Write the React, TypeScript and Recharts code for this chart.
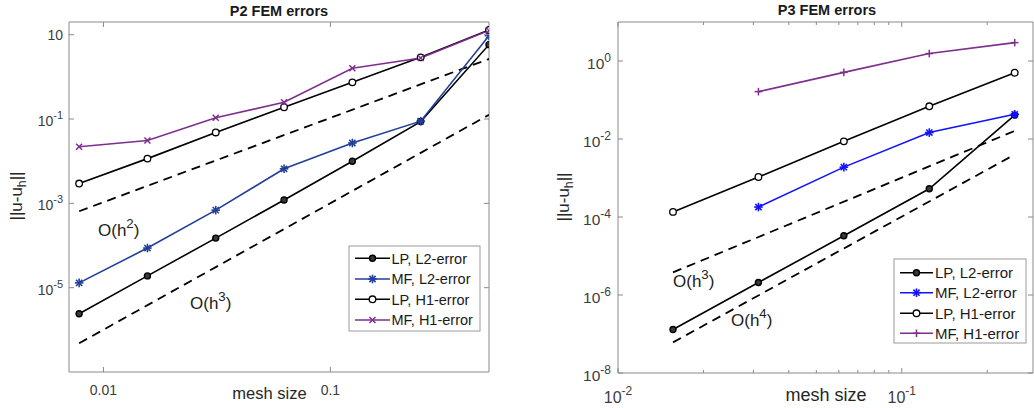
import React from "react";
import { LineChart, Line, XAxis, YAxis, ReferenceArea } from "recharts";

// mesh sizes
const H_P2 = [1 / 128, 1 / 64, 1 / 32, 1 / 16, 1 / 8, 1 / 4, 1 / 2];
const H_P3 = [1 / 64, 1 / 32, 1 / 16, 1 / 8, 1 / 4];
const H_P3_MF = [1 / 32, 1 / 16, 1 / 8, 1 / 4];

// P2 errors
const P2_LP_L2 = [2.4e-6, 1.9e-5, 1.5e-4, 1.2e-3, 1.0e-2, 0.087, 5.8];
const P2_MF_L2 = [1.3e-5, 8.7e-5, 6.9e-4, 6.6e-3, 0.027, 0.089, 9.5];
const P2_LP_H1 = [2.95e-3, 0.0115, 0.048, 0.19, 0.74, 2.9, 13];
const P2_MF_H1 = [0.022, 0.031, 0.107, 0.25, 1.6, 2.8, 12.6];

// P3 errors
const P3_LP_L2 = [1.3e-7, 2.1e-6, 3.3e-5, 5.3e-4, 0.041];
const P3_MF_L2 = [1.8e-4, 1.9e-3, 0.0146, 0.043];
const P3_LP_H1 = [1.35e-4, 1.06e-3, 8.7e-3, 0.069, 0.5];
const P3_MF_H1 = [0.164, 0.51, 1.55, 2.96];

// reference slopes (end points)
const P2_RATE_H = [1 / 128, 1 / 2];
const P2_O2 = [6.5e-4, 2.66];
const P2_O3 = [4.8e-7, 0.126];
const P3_RATE_H = [1 / 64, 1 / 4];
const P3_O3 = [3.8e-6, 0.0161];
const P3_O4 = [6.1e-8, 0.004];

// axis ticks
const P2_X_TICKS = [0.01, 0.1];
const P2_Y_TICKS = [10, 0.1, 1e-3, 1e-5];
const P3_X_TICKS = [0.01, 0.02, 0.03, 0.04, 0.05, 0.06, 0.07, 0.08, 0.09, 0.1, 0.2];
const P3_X_MAJOR = [0.01, 0.1];
const P3_Y_TICKS = [1, 1e-2, 1e-4, 1e-6, 1e-8];

const LEGEND_NAMES = ["LP, L2-error", "MF, L2-error", "LP, H1-error", "MF, H1-error"];

const FONT = '"Liberation Sans", Arial, Helvetica, sans-serif';
const AXIS_GRAY = "#8a8a8a";
const TEXT = "#3c3c3c";
const BLACK = "#000000";
const NAVY = "#213f98";
const BLUE = "#1212ff";
const PURPLE = "#7e2f8e";

type Kind = "dotFilled" | "dotOpen" | "star" | "cross" | "plus";

function Marker({ kind, cx, cy, color }: { kind: Kind; cx: number; cy: number; color: string }) {
  if (cx == null || cy == null || isNaN(cx) || isNaN(cy)) return null;
  if (kind === "dotFilled")
    return <circle cx={cx} cy={cy} r={3} fill="#3a3a3a" stroke={color} strokeWidth={1.4} />;
  if (kind === "dotOpen")
    return <circle cx={cx} cy={cy} r={3.3} fill="#ffffff" stroke={color} strokeWidth={1.3} />;
  if (kind === "star") {
    const a = 4.3;
    const b = 3.1;
    return (
      <g stroke={color} strokeWidth={1.6}>
        <line x1={cx - a} y1={cy} x2={cx + a} y2={cy} />
        <line x1={cx} y1={cy - a} x2={cx} y2={cy + a} />
        <line x1={cx - b} y1={cy - b} x2={cx + b} y2={cy + b} />
        <line x1={cx - b} y1={cy + b} x2={cx + b} y2={cy - b} />
      </g>
    );
  }
  if (kind === "cross") {
    const b = 3;
    return (
      <g stroke={color} strokeWidth={1.5}>
        <line x1={cx - b} y1={cy - b} x2={cx + b} y2={cy + b} />
        <line x1={cx - b} y1={cy + b} x2={cx + b} y2={cy - b} />
      </g>
    );
  }
  const a = 3.8;
  return (
    <g stroke={color} strokeWidth={1.5}>
      <line x1={cx - a} y1={cy} x2={cx + a} y2={cy} />
      <line x1={cx} y1={cy - a} x2={cx} y2={cy + a} />
    </g>
  );
}

type Series = { name: string; h: number[]; v: number[]; color: string; kind: Kind };

const P2_SERIES: Series[] = [
  { name: LEGEND_NAMES[0], h: H_P2, v: P2_LP_L2, color: BLACK, kind: "dotFilled" },
  { name: LEGEND_NAMES[1], h: H_P2, v: P2_MF_L2, color: NAVY, kind: "star" },
  { name: LEGEND_NAMES[2], h: H_P2, v: P2_LP_H1, color: BLACK, kind: "dotOpen" },
  { name: LEGEND_NAMES[3], h: H_P2, v: P2_MF_H1, color: PURPLE, kind: "cross" },
];

const P3_SERIES: Series[] = [
  { name: LEGEND_NAMES[0], h: H_P3, v: P3_LP_L2, color: BLACK, kind: "dotFilled" },
  { name: LEGEND_NAMES[1], h: H_P3_MF, v: P3_MF_L2, color: BLUE, kind: "star" },
  { name: LEGEND_NAMES[2], h: H_P3, v: P3_LP_H1, color: BLACK, kind: "dotOpen" },
  { name: LEGEND_NAMES[3], h: H_P3_MF, v: P3_MF_H1, color: PURPLE, kind: "plus" },
];

const P2_RATES = [
  { h: P2_RATE_H, v: P2_O2 },
  { h: P2_RATE_H, v: P2_O3 },
];
const P3_RATES = [
  { h: P3_RATE_H, v: P3_O3 },
  { h: P3_RATE_H, v: P3_O4 },
];

const toRows = (h: number[], v: number[]) => h.map((x, i) => ({ x, y: v[i] }));

function Pow({ exp, supSize, dy }: { exp: string; supSize: number; dy: number }) {
  return (
    <>
      <tspan>10</tspan>
      <tspan dy={dy} fontSize={supSize}>
        {exp}
      </tspan>
    </>
  );
}

const expOf = (v: number) => String(Math.round(Math.log10(v)));

type PanelProps = {
  left: number;
  width: number;
  height: number;
  // plot box inside the chart
  box: { top: number; right: number; bottom: number; left: number };
  xDomain: [number, number];
  yDomain: [number, number];
  xTicks: number[];
  yTicks: number[];
  xMajor: number[];
  series: Series[];
  rates: { h: number[]; v: number[] }[];
  xLabel: (v: number, x: number, y: number) => React.ReactNode;
  yLabel: (v: number, x: number, y: number) => React.ReactNode;
};

function Panel(p: PanelProps) {
  const geo = {
    left: p.box.left,
    right: p.width - p.box.right,
    top: p.box.top,
    bottom: p.height - p.box.bottom,
  };
  // axes need a non-zero size to render, so give them 1px and take it from the margin
  const margin = { top: p.box.top, right: p.box.right, bottom: p.box.bottom - 1, left: p.box.left - 1 };

  const xTick = (t: any) => {
    const v = t.payload.value;
    const major = p.xMajor.some((m) => Math.abs(m - v) < 1e-9);
    const len = major ? 5 : 3;
    return (
      <g key={`xt-${v}`}>
        <line x1={t.x} x2={t.x} y1={geo.bottom} y2={geo.bottom - len} stroke={AXIS_GRAY} />
        <line x1={t.x} x2={t.x} y1={geo.top} y2={geo.top + len} stroke={AXIS_GRAY} />
        {major && p.xLabel(v, t.x, geo.bottom)}
      </g>
    );
  };

  const yTick = (t: any) => {
    const v = t.payload.value;
    return (
      <g key={`yt-${v}`}>
        <line x1={geo.left} x2={geo.left + 5} y1={t.y} y2={t.y} stroke={AXIS_GRAY} />
        <line x1={geo.right} x2={geo.right - 5} y1={t.y} y2={t.y} stroke={AXIS_GRAY} />
        {p.yLabel(v, geo.left, t.y)}
      </g>
    );
  };

  return (
    <div style={{ position: "absolute", left: p.left, top: 0 }}>
      <LineChart width={p.width} height={p.height} margin={margin}>
        <XAxis
          dataKey="x"
          type="number"
          scale="log"
          domain={p.xDomain}
          allowDataOverflow
          ticks={p.xTicks}
          interval={0}
          height={1}
          tickSize={0}
          tickMargin={0}
          axisLine={false}
          tickLine={false}
          tick={xTick}
        />
        <YAxis
          dataKey="y"
          type="number"
          scale="log"
          domain={p.yDomain}
          allowDataOverflow
          ticks={p.yTicks}
          interval={0}
          width={1}
          tickSize={0}
          tickMargin={0}
          axisLine={false}
          tickLine={false}
          tick={yTick}
        />
        <ReferenceArea
          x1={p.xDomain[0]}
          x2={p.xDomain[1]}
          y1={p.yDomain[0]}
          y2={p.yDomain[1]}
          fill="none"
          fillOpacity={0}
          stroke={AXIS_GRAY}
          strokeWidth={1}
          ifOverflow="visible"
        />
        {p.rates.map((r, i) => (
          <Line
            key={`rate-${i}`}
            data={toRows(r.h, r.v)}
            dataKey="y"
            type="linear"
            stroke={BLACK}
            strokeWidth={1.8}
            strokeDasharray="9 6"
            dot={false}
            activeDot={false}
            isAnimationActive={false}
          />
        ))}
        {p.series.map((s) => (
          <Line
            key={s.name}
            data={toRows(s.h, s.v)}
            dataKey="y"
            name={s.name}
            type="linear"
            stroke={s.color}
            strokeWidth={1.6}
            dot={(d: any) => (
              <Marker key={`${s.name}-${d.index}`} kind={s.kind} cx={d.cx} cy={d.cy} color={s.color} />
            )}
            activeDot={false}
            isAnimationActive={false}
          />
        ))}
      </LineChart>
    </div>
  );
}

function LegendBox({
  x,
  y,
  w,
  h,
  rowY,
  lineX,
  textX,
  fontSize,
  series,
}: {
  x: number;
  y: number;
  w: number;
  h: number;
  rowY: number[];
  lineX: [number, number];
  textX: number;
  fontSize: number;
  series: Series[];
}) {
  return (
    <g>
      <rect x={x} y={y} width={w} height={h} fill="#ffffff" stroke="#9a9a9a" strokeWidth={1} />
      {series.map((s, i) => {
        const cy = rowY[i];
        const mid = (lineX[0] + lineX[1]) / 2;
        return (
          <g key={s.name}>
            <line x1={lineX[0]} x2={lineX[1]} y1={cy} y2={cy} stroke={s.color} strokeWidth={1.6} />
            <Marker kind={s.kind} cx={mid} cy={cy} color={s.color} />
            <text x={textX} y={cy + fontSize * 0.36} fontSize={fontSize} fill="#1a1a1a" fontFamily={FONT}>
              {s.name}
            </text>
          </g>
        );
      })}
    </g>
  );
}

function Rate({ x, y, exp, size }: { x: number; y: number; exp: string; size: number }) {
  return (
    <text x={x} y={y} fontSize={size} fill="#1c1c1c" fontFamily={FONT}>
      <tspan>O(h</tspan>
      <tspan dy={-8} fontSize={size * 0.78}>
        {exp}
      </tspan>
      <tspan dy={8}>)</tspan>
    </text>
  );
}

function YTitle({ x, y, size }: { x: number; y: number; size: number }) {
  return (
    <text
      x={x}
      y={y}
      transform={`rotate(-90 ${x} ${y})`}
      textAnchor="middle"
      fontSize={size}
      fill="#262626"
      fontFamily={FONT}
    >
      <tspan>||u-u</tspan>
      <tspan dy={4} fontSize={size * 0.72}>
        h
      </tspan>
      <tspan dy={-4}>||</tspan>
    </text>
  );
}

export default function App() {
  const p2XLabel = (v: number, x: number, y: number) => (
    <text x={x} y={y + 23} textAnchor="middle" fontSize={14} fill={TEXT} fontFamily={FONT}>
      {v === 0.01 ? "0.01" : "0.1"}
    </text>
  );
  const p2YLabel = (v: number, x: number, y: number) => {
    const e = expOf(v);
    return (
      <text x={x - 6} y={y + (e === "1" ? 5 : 7)} textAnchor="end" fontSize={14} fill={TEXT} fontFamily={FONT}>
        {e === "1" ? "10" : <Pow exp={e} supSize={11} dy={-7} />}
      </text>
    );
  };
  const p3XLabel = (v: number, x: number, y: number) => (
    <text x={x} y={y + 30} textAnchor="middle" fontSize={16} fill={TEXT} fontFamily={FONT}>
      <Pow exp={expOf(v)} supSize={12} dy={-8} />
    </text>
  );
  const p3YLabel = (v: number, x: number, y: number) => (
    <text x={x - 7} y={y + 7.5} textAnchor="end" fontSize={15.5} fill={TEXT} fontFamily={FONT}>
      <Pow exp={expOf(v)} supSize={12} dy={-7} />
    </text>
  );

  return (
    <div
      style={{
        position: "absolute",
        left: 0,
        top: 0,
        width: 1034,
        height: 408,
        background: "#ffffff",
        overflow: "hidden",
      }}
    >
      <Panel
        left={0}
        width={520}
        height={408}
        box={{ top: 22, right: 31, bottom: 36, left: 69 }}
        xDomain={[0.00705, 0.5]}
        yDomain={[1e-7, 20]}
        xTicks={P2_X_TICKS}
        yTicks={P2_Y_TICKS}
        xMajor={P2_X_TICKS}
        series={P2_SERIES}
        rates={P2_RATES}
        xLabel={p2XLabel}
        yLabel={p2YLabel}
      />
      <Panel
        left={520}
        width={514}
        height={408}
        box={{ top: 22, right: 1, bottom: 35, left: 98 }}
        xDomain={[0.01, 0.29]}
        yDomain={[1e-8, 10]}
        xTicks={P3_X_TICKS}
        yTicks={P3_Y_TICKS}
        xMajor={P3_X_MAJOR}
        series={P3_SERIES}
        rates={P3_RATES}
        xLabel={p3XLabel}
        yLabel={p3YLabel}
      />
      <svg
        width={1034}
        height={408}
        style={{ position: "absolute", left: 0, top: 0, pointerEvents: "none" }}
      >
        <text x={279} y={16} textAnchor="middle" fontSize={14.5} fontWeight="bold" fill="#1a1a1a" fontFamily={FONT}>
          P2 FEM errors
        </text>
        <text x={827} y={15} textAnchor="middle" fontSize={14.5} fontWeight="bold" fill="#1a1a1a" fontFamily={FONT}>
          P3 FEM errors
        </text>
        <text x={269.5} y={399} textAnchor="middle" fontSize={16.5} fill="#262626" fontFamily={FONT}>
          mesh size
        </text>
        <text x={826} y={401} textAnchor="middle" fontSize={18} fill="#262626" fontFamily={FONT}>
          mesh size
        </text>
        <YTitle x={22} y={196} size={17} />
        <YTitle x={569} y={197} size={17} />
        <Rate x={98} y={236} exp="2" size={17} />
        <Rate x={190} y={309} exp="3" size={17} />
        <Rate x={673} y={287} exp="3" size={17} />
        <Rate x={731} y={326} exp="4" size={17} />
        <LegendBox
          x={349}
          y={246}
          w={131}
          h={85}
          rowY={[258.3, 279, 299.3, 320]}
          lineX={[355, 390]}
          textX={391.5}
          fontSize={14.5}
          series={P2_SERIES}
        />
        <LegendBox
          x={894}
          y={259}
          w={132}
          h={84}
          rowY={[272.7, 292.7, 313.3, 333.3]}
          lineX={[900, 933]}
          textX={935}
          fontSize={15}
          series={P3_SERIES}
        />
      </svg>
    </div>
  );
}
